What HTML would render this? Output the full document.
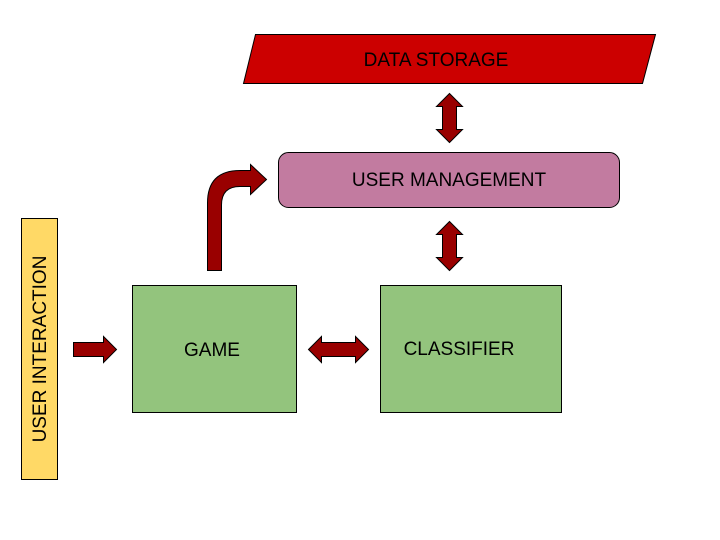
<!DOCTYPE html>
<html><head><meta charset="utf-8"><style>
html,body{margin:0;padding:0;background:#fff;}
svg{display:block;}
text{font-family:"Liberation Sans",Arial,sans-serif;font-size:19px;fill:#000;}
</style></head><body>
<svg width="720" height="540" viewBox="0 0 720 540" xmlns="http://www.w3.org/2000/svg">
<rect x="0" y="0" width="720" height="540" fill="#fff"/>
<polygon points="255.5,34.5 655.5,34.5 642.5,83.5 243.5,83.5" fill="#cc0000" stroke="#000" stroke-width="1"/>
<text x="436" y="66" text-anchor="middle">DATA STORAGE</text>
<rect x="278.5" y="152.5" width="341" height="55" rx="10" fill="#c27ba0" stroke="#000" stroke-width="1"/>
<text x="449" y="186" text-anchor="middle">USER MANAGEMENT</text>
<rect x="21.5" y="218.5" width="36" height="261" fill="#ffd966" stroke="#000" stroke-width="1"/>
<text transform="translate(46,349) rotate(-90)" text-anchor="middle">USER INTERACTION</text>
<rect x="132.5" y="285.5" width="164" height="127" fill="#93c47d" stroke="#000" stroke-width="1"/>
<text x="212" y="356" text-anchor="middle">GAME</text>
<rect x="380.5" y="285.5" width="181" height="127" fill="#93c47d" stroke="#000" stroke-width="1"/>
<text x="459" y="355" text-anchor="middle">CLASSIFIER</text>
<g fill="#990000" stroke="#000" stroke-width="1">
<polygon points="73.5,342.5 103.5,342.5 103.5,336.5 116.5,349.5 103.5,362.5 103.5,356.5 73.5,356.5"/>
<polygon points="308.5,349.5 321.5,336.5 321.5,342.5 355.5,342.5 355.5,336.5 368.5,349.5 355.5,362.5 355.5,356.5 321.5,356.5 321.5,362.5"/>
<polygon points="449.5,93.5 462.5,106.5 456.5,106.5 456.5,129.5 462.5,129.5 449.5,142.5 436.5,129.5 442.5,129.5 442.5,106.5 436.5,106.5"/>
<polygon points="449.5,221.5 462.5,234.5 456.5,234.5 456.5,257.5 462.5,257.5 449.5,270.5 436.5,257.5 442.5,257.5 442.5,234.5 436.5,234.5"/>
<path d="M207.5,270.5 L207.5,203 Q207.5,170.5 240,170.5 L250.5,170.5 L250.5,164.5 L266.5,179.5 L250.5,194.5 L250.5,186.5 L240,186.5 Q221.5,186.5 221.5,205 L221.5,270.5 Z"/>
</g>
</svg>
</body></html>
